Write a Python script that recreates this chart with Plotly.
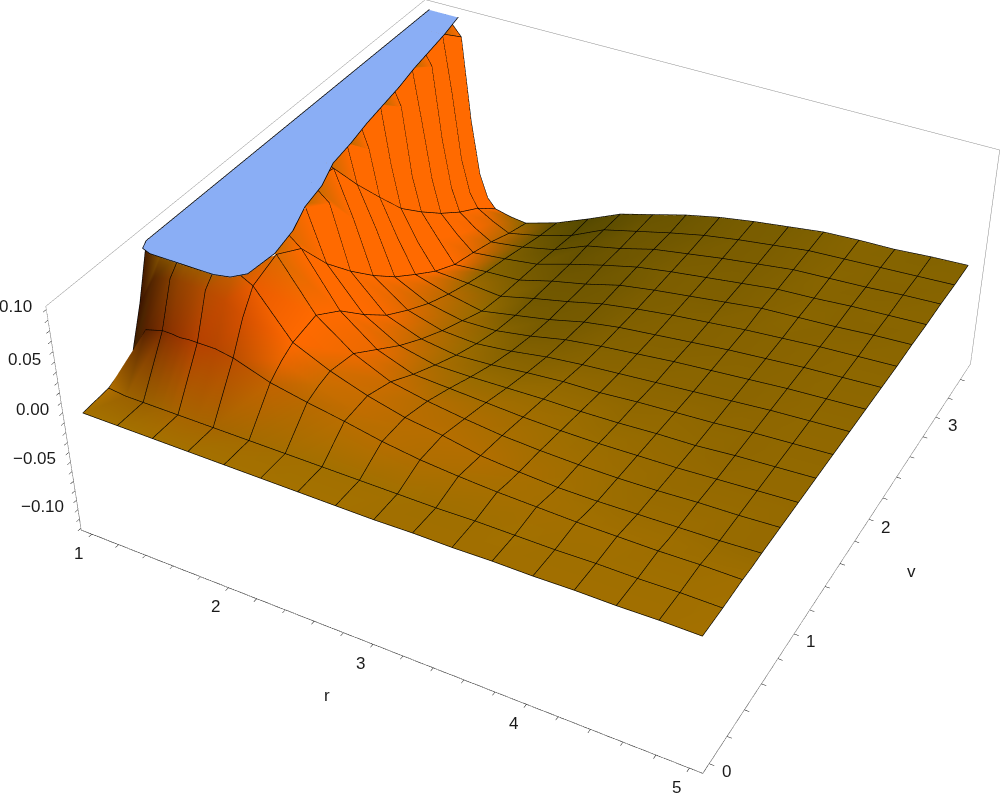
import numpy as np
import plotly.graph_objects as go

# mesh nodes: r every 0.0625-0.125 on the cliff then 0.25, v in 16 equal steps up to 3.5
r_values = [1, 1.125, 1.25, 1.3125, 1.375, 1.4375, 1.5, 1.625, 1.75, 2, 2.25, 2.5, 2.75, 3, 3.25, 3.5, 3.75, 4, 4.25, 4.5, 4.75, 5]
v_steps = [0, 1, 2, 2.5, 3, 4, 5, 6, 7, 8, 9, 10, 11, 12, 13, 14, 15, 16]
v_max = 3.5

# one row per v step (0.1 = clipped)
z_v00 = [-.004, -.004, -.004, -.004, -.004, -.004, -.004, -.004, -.004, -.004, -.004, -.004, -.004, -.004, -.003, -.003, -.002, -.002, -.001, -.001, 0, 0]
z_v01 = [-.002, -.004, -.004, -.004, -.004, -.004, -.004, -.004, -.004, -.004, -.004, -.004, -.004, -.004, -.004, -.003, -.003, -.003, -.002, -.002, -.001, -.001]
z_v02 = [.01, .04, .045, .045, .044, .045, .045, .045, .042, .03, .023, .017, .01, .005, .002, 0, -.001, -.002, -.002, -.002, -.001, -.001]
z_v25 = [.05, .08, .085, .085, .085, .085, .085, .08, .07, .04, .028, .018, .01, .005, 0, -.003, -.004, -.005, -.004, -.004, -.003, -.002]
z_v03 = [.1, .1, .1, .1, .1, .1, .1, .1, .09, .047, .031, .019, .01, .005, -.002, -.005, -.007, -.007, -.006, -.005, -.004, -.002]
z_v04 = [.1, .1, .1, .1, .1, .1, .1, .1, .1, .052, .026, .01, .003, -.002, -.006, -.008, -.009, -.009, -.008, -.006, -.005, -.003]
z_v05 = [.1, .1, .1, .1, .1, .1, .1, .1, .085, .035, .008, -.005, -.007, -.009, -.011, -.012, -.012, -.011, -.01, -.008, -.006, -.004]
z_v06 = [.1, .1, .1, .1, .1, .1, .1, .1, .05, .01, -.01, -.018, -.018, -.017, -.016, -.016, -.015, -.013, -.012, -.009, -.007, -.005]
z_v07 = [.1, .1, .1, .1, .1, .1, .1, .085, .022, -.012, -.025, -.03, -.028, -.024, -.021, -.02, -.017, -.015, -.013, -.01, -.008, -.006]
z_v08 = [.1, .1, .1, .1, .1, .1, .095, .05, -.003, -.028, -.038, -.04, -.036, -.03, -.026, -.023, -.02, -.017, -.014, -.011, -.009, -.007]
z_v09 = [.1, .1, .1, .1, .1, .1, .06, .02, -.025, -.042, -.049, -.048, -.042, -.034, -.029, -.025, -.021, -.018, -.015, -.012, -.01, -.008]
z_v10 = [.1, .1, .1, .1, .1, .075, .028, -.01, -.043, -.053, -.06, -.053, -.046, -.037, -.031, -.027, -.023, -.019, -.016, -.013, -.011, -.009]
z_v11 = [.1, .1, .1, .1, .1, .04, -.003, -.035, -.06, -.062, -.065, -.056, -.048, -.039, -.033, -.028, -.024, -.02, -.017, -.014, -.012, -.01]
z_v12 = [.1, .1, .1, .1, .08, .01, -.026, -.05, -.073, -.07, -.068, -.058, -.05, -.04, -.034, -.029, -.024, -.019, -.017, -.015, -.012, -.01]
z_v13 = [.1, .1, .1, .1, .045, -.012, -.047, -.065, -.08, -.076, -.071, -.06, -.05, -.041, -.035, -.03, -.025, -.02, -.018, -.015, -.013, -.011]
z_v14 = [.1, .1, .1, .085, .01, -.04, -.065, -.078, -.088, -.083, -.075, -.06, -.052, -.042, -.036, -.03, -.025, -.02, -.018, -.016, -.013, -.011]
z_v15 = [.1, .1, .1, .04, -.03, -.065, -.08, -.09, -.098, -.09, -.079, -.062, -.053, -.044, -.036, -.03, -.025, -.02, -.018, -.016, -.014, -.012]
z_v16 = [.1, .1, .08, -.007, -.065, -.09, -.1, -.104, -.106, -.095, -.08, -.064, -.054, -.044, -.036, -.03, -.025, -.02, -.018, -.017, -.014, -.012]

# outline of the clipped top
cap_steps = [2.6, 2.7, 3, 4, 5, 6, 7, 8, 9, 10, 11, 12, 13, 14, 15, 16]
cap_left = [1.1, 1.03, 1, 1, 1, 1, 1, 1, 1, 1, 1, 1, 1, 1, 1, 1]
cap_right = [1.55, 1.65, 1.72, 1.74, 1.7, 1.62, 1.58, 1.5, 1.47, 1.43, 1.4, 1.37, 1.33, 1.3, 1.27, 1.23]

r_ticks = [1, 2, 3, 4, 5]
v_ticks = [0, 1, 2, 3]
z_ticks = [-0.10, -0.05, 0.00, 0.05, 0.10]
z_tick_labels = ["\u22120.10", "\u22120.05", "0.00", "0.05", "0.10"]

r_range = [0.92, 5.08]
v_range = [-0.07, 3.57]
z_range = [-0.122, 0.103]

r = np.array(r_values)
v = np.array(v_steps) * v_max / 16
z = np.array([z_v00, z_v01, z_v02, z_v25, z_v03, z_v04, z_v05, z_v06, z_v07, z_v08, z_v09,
              z_v10, z_v11, z_v12, z_v13, z_v14, z_v15, z_v16])
n_v, n_r = z.shape

# colour by which way the surface faces, like the coloured lights
dz_dv, dz_dr = np.gradient(z, v, r)
rr, vv = np.meshgrid(r, v)
brown = np.array([164, 113, 0.0])
far_brown = np.array([125, 98, 0.0])
orange = np.array([255, 106, 0.0])
olive = np.array([70, 64, 0.0])
dark_red = np.array([60, 20, 0.0])
mid_red = np.array([185, 60, 0.0])


def mix(col, other, amount):
    amount = amount[:, :, None]
    return col * (1 - amount) + other * amount


col = np.full(z.shape + (3,), brown)
col = mix(col, far_brown, vv / v_max * 0.6)
col = mix(col, orange, np.clip(-dz_dr / 0.1, 0, 1))
col = mix(col, olive, np.clip(dz_dr / 0.08, 0, 0.95))
red_part = np.clip((1.5 - rr) / 0.5, 0, 1)[:, :, None]
red_now = dark_red[None, None, :] * red_part + mid_red[None, None, :] * (1 - red_part)
front = np.clip((dz_dv - 0.05) / 0.3, 0, 1)[:, :, None]
col = col * (1 - front) + red_now * front
vertex_colors = [f"rgb({int(c[0])},{int(c[1])},{int(c[2])})" for c in col.reshape(-1, 3)]

# triangles of the grid, leaving out those that lie wholly under the clipped top
tri_i, tri_j, tri_k = [], [], []
for a in range(n_v - 1):
    for b in range(n_r - 1):
        p, q, s, t = a * n_r + b, a * n_r + b + 1, (a + 1) * n_r + b + 1, (a + 1) * n_r + b
        for tri in [(p, q, s), (p, s, t)]:
            if min(z.flat[n] for n in tri) >= 0.1:
                continue
            tri_i.append(tri[0])
            tri_j.append(tri[1])
            tri_k.append(tri[2])

flat = dict(ambient=1, diffuse=0, specular=0, roughness=1, fresnel=0)

fig = go.Figure()
fig.add_trace(go.Mesh3d(
    x=rr.ravel(), y=vv.ravel(), z=np.minimum(z, 0.0995).ravel(), i=tri_i, j=tri_j, k=tri_k,
    vertexcolor=vertex_colors, lighting=flat, flatshading=False, hoverinfo="skip",
))

# mesh lines along the grid every 0.25 in r and every v step
line_x, line_y, line_z = [], [], []
mesh_rows = [a for a, s in enumerate(v_steps) if float(s).is_integer()]
mesh_cols = [b for b, x in enumerate(r_values) if abs(x * 4 - round(x * 4)) < 1e-9]
for a in mesh_rows:
    for b in range(n_r - 1):
        if z[a, b] < 0.1 or z[a, b + 1] < 0.1:
            line_x += [r[b], r[b + 1], None]
            line_y += [v[a], v[a], None]
            line_z += [min(z[a, b], 0.0995) + 0.0004, min(z[a, b + 1], 0.0995) + 0.0004, None]
for b in mesh_cols:
    for a in range(n_v - 1):
        if z[a, b] < 0.1 or z[a + 1, b] < 0.1:
            line_x += [r[b], r[b], None]
            line_y += [v[a], v[a + 1], None]
            line_z += [min(z[a, b], 0.0995) + 0.0004, min(z[a + 1, b], 0.0995) + 0.0004, None]
fig.add_trace(go.Scatter3d(x=line_x, y=line_y, z=line_z, mode="lines",
                           line=dict(color="#000000", width=1.3), hoverinfo="skip"))

# clipped top
cap_v = np.array(cap_steps) * v_max / 16
cap_x = np.array([cap_left, cap_right]).T
cap_y = np.array([cap_v, cap_v]).T
fig.add_trace(go.Surface(
    x=cap_x, y=cap_y, z=np.full(cap_x.shape, 0.1), surfacecolor=np.zeros(cap_x.shape),
    colorscale=[[0, "#8aaef5"], [1, "#8aaef5"]], showscale=False, lighting=flat, hoverinfo="skip",
))
edge_x = list(cap_left[::-1]) + list(cap_right)
edge_y = list(cap_v[::-1]) + list(cap_v)
fig.add_trace(go.Scatter3d(x=edge_x, y=edge_y, z=[0.1005] * len(edge_x), mode="lines",
                           line=dict(color="black", width=1.5), hoverinfo="skip"))

# the three edges that carry ticks are black, rest of the box is grey
fig.add_trace(go.Scatter3d(
    x=[r_range[0], r_range[0], r_range[1], r_range[1]],
    y=[v_range[0], v_range[0], v_range[0], v_range[1]],
    z=[z_range[1], z_range[0], z_range[0], z_range[0]],
    mode="lines", line=dict(color="black", width=1.2), hoverinfo="skip"))

# every tick is a small one, the labels go on as annotations so they sit where they do in the original
r_minor = np.round(np.arange(1, 5.01, 0.2), 1)
v_minor = np.round(np.arange(0, 3.41, 0.2), 1)
z_minor = np.round(np.arange(-0.12, 0.101, 0.01), 2)

label_font = dict(family="Liberation Sans", size=17, color="#1a1a1a")
axis_base = dict(showgrid=False, zeroline=False, showbackground=False, showline=True, mirror=True,
                 linecolor="#8a8a8a", linewidth=1, ticks="inside", ticklen=4, tickcolor="#111111",
                 tickwidth=1, showticklabels=False, showspikes=False, autorange=False, title=dict(text=""))

notes = []
for t in r_ticks:
    notes.append(dict(x=t, y=v_range[0], z=z_range[0], text=str(t), showarrow=False, font=label_font,
                      xshift=-13, yshift=-19))
for t in v_ticks:
    notes.append(dict(x=r_range[1], y=t, z=z_range[0], text=str(t), showarrow=False, font=label_font,
                      xshift=17, yshift=-8))
for t, s in zip(z_ticks, z_tick_labels):
    notes.append(dict(x=r_range[0], y=v_range[0], z=t, text=s, showarrow=False, font=label_font,
                      xanchor="right", xshift=-12, yshift=3))
notes.append(dict(x=2.65, y=v_range[0], z=z_range[0], text="r", showarrow=False, font=label_font, xshift=6, yshift=-71))
notes.append(dict(x=r_range[1], y=1.5, z=z_range[0], text="v", showarrow=False, font=label_font, xshift=79, yshift=3))

fig.update_layout(
    width=1899,
    height=1899,
    margin=dict(l=0, r=0, t=0, b=0),
    paper_bgcolor="white",
    showlegend=False,
    scene=dict(
        aspectmode="manual",
        aspectratio=dict(x=1, y=1, z=0.4),
        camera=dict(eye=dict(x=1.3, y=-2.4, z=2), center=dict(x=0, y=0, z=0), up=dict(x=0, y=0, z=1)),
        xaxis=dict(axis_base, range=r_range, tickvals=list(r_minor)),
        yaxis=dict(axis_base, range=v_range, tickvals=list(v_minor)),
        zaxis=dict(axis_base, range=z_range, tickvals=list(z_minor)),
        annotations=notes,
    ),
)

# the viewer in the reference has a long lens, so the plot is bigger than the window and shifted
shift = ("var gd=document.getElementById('{plot_id}');"
         "gd.style.position='absolute';gd.style.left='-403px';gd.style.top='-612px';"
         "document.body.style.overflow='hidden';")
fig.write_html("out.html", post_script=shift)
